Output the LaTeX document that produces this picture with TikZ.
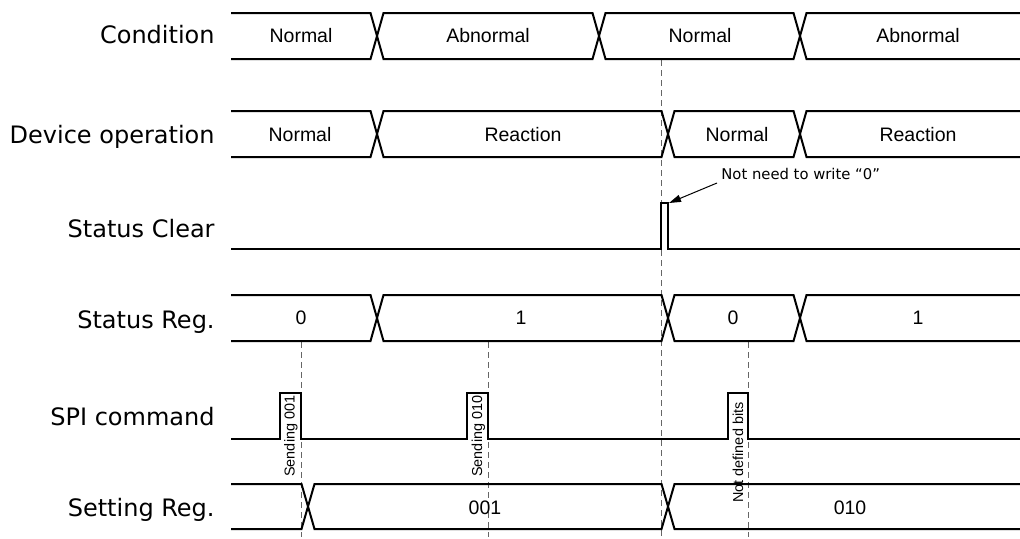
\documentclass[tikz,border=0pt]{standalone}
\usepackage{fontspec}
\setmainfont{Liberation Sans}
\newfontfamily\dejavu{DejaVu Sans}
\usetikzlibrary{arrows.meta}
\begin{document}
\begin{tikzpicture}[x=0.5pt,y=-0.5pt,
  wave/.style={line width=1pt, line join=miter},
  guide/.style={draw=black!60, line width=0.5pt, dash pattern=on 3pt off 2pt},
  rowlabel/.style={anchor=base east, inner sep=0pt, font=\dejavu\fontsize{12}{14}\selectfont},
  cell/.style={inner sep=0pt, font=\fontsize{9.75}{11}\selectfont},
  vlabel/.style={rotate=90, anchor=base west, inner sep=0pt, font=\fontsize{7.2}{8}\selectfont},
  note/.style={anchor=base west, inner sep=0pt, font=\dejavu\fontsize{7.4}{9}\selectfont},
  pointer/.style={line width=0.5pt, -{Triangle[length=6pt,width=3.6pt]}}
]
\useasboundingbox (0,0) rectangle (1020,538);

% guides
\draw[guide] (661.5,60) -- (661.5,537);
\draw[guide] (301,342) -- (301,537);
\draw[guide] (488,342) -- (488,537);
\draw[guide] (748,342) -- (748,537);

% row labels
\node[rowlabel] (lCond) at (215,43) {Condition};
\node[rowlabel] (lDev)  at (215,143) {Device operation};
\node[rowlabel] (lClr)  at (215,237) {Status Clear};
\node[rowlabel] (lStat) at (215,328) {Status Reg.};
\node[rowlabel] (lSpi)  at (215,425) {SPI command};
\node[rowlabel] (lSet)  at (215,516) {Setting Reg.};

% Condition bus
\draw[wave] (231,13) -- (370.5,13) -- (383.5,59) -- (592.5,59) -- (605.5,13) -- (793.5,13) -- (806.5,59) -- (1020,59);
\draw[wave] (231,59) -- (370.5,59) -- (383.5,13) -- (592.5,13) -- (605.5,59) -- (793.5,59) -- (806.5,13) -- (1020,13);
\node[cell] (c1) at (301,35.5) {Normal};
\node[cell] (c2) at (488,35.5) {Abnormal};
\node[cell] (c3) at (700,35.5) {Normal};
\node[cell] (c4) at (918,35.5) {Abnormal};

% Device operation bus
\draw[wave] (231,111) -- (370.5,111) -- (383.5,157) -- (661.5,157) -- (674.5,111) -- (793.5,111) -- (806.5,157) -- (1020,157);
\draw[wave] (231,157) -- (370.5,157) -- (383.5,111) -- (661.5,111) -- (674.5,157) -- (793.5,157) -- (806.5,111) -- (1020,111);
\node[cell] (d1) at (300,135) {Normal};
\node[cell] (d2) at (523,135) {Reaction};
\node[cell] (d3) at (737,135) {Normal};
\node[cell] (d4) at (918,135) {Reaction};

% Status Clear
\draw[wave] (231,249) -- (661,249) -- (661,203) -- (668,203) -- (668,249) -- (1020,249);
\node[note] (ann) at (721,179) {Not need to write “0”};
\coordinate (noteTail) at (717,183);
\coordinate (clearTop) at (669,203);
\draw[pointer] (noteTail) -- (clearTop);

% Status Reg bus
\draw[wave] (231,295) -- (370.5,295) -- (383.5,341) -- (661.5,341) -- (674.5,295) -- (793.5,295) -- (806.5,341) -- (1020,341);
\draw[wave] (231,341) -- (370.5,341) -- (383.5,295) -- (661.5,295) -- (674.5,341) -- (793.5,341) -- (806.5,295) -- (1020,295);
\node[cell] (s1) at (301,318) {0};
\node[cell] (s2) at (521,318) {1};
\node[cell] (s3) at (733,318) {0};
\node[cell] (s4) at (918,318) {1};

% SPI command
\draw[wave] (231,439) -- (280,439) -- (280,393) -- (301,393) -- (301,439) -- (467,439) -- (467,393) -- (488,393) -- (488,439) -- (728,439) -- (728,393) -- (748,393) -- (748,439) -- (1020,439);
\node[vlabel] (p1) at (294.5,477) {Sending 001};
\node[vlabel] (p2) at (482,477) {Sending 010};
\node[vlabel] (p3) at (743,503) {Not defined bits};

% Setting Reg bus
\draw[wave] (231,484) -- (301.5,484) -- (314.5,529) -- (661.5,529) -- (674.5,484) -- (1020,484);
\draw[wave] (231,529) -- (301.5,529) -- (314.5,484) -- (661.5,484) -- (674.5,529) -- (1020,529);
\node[cell] (g1) at (485,508) {001};
\node[cell] (g2) at (850,508) {010};
\end{tikzpicture}
\end{document}
